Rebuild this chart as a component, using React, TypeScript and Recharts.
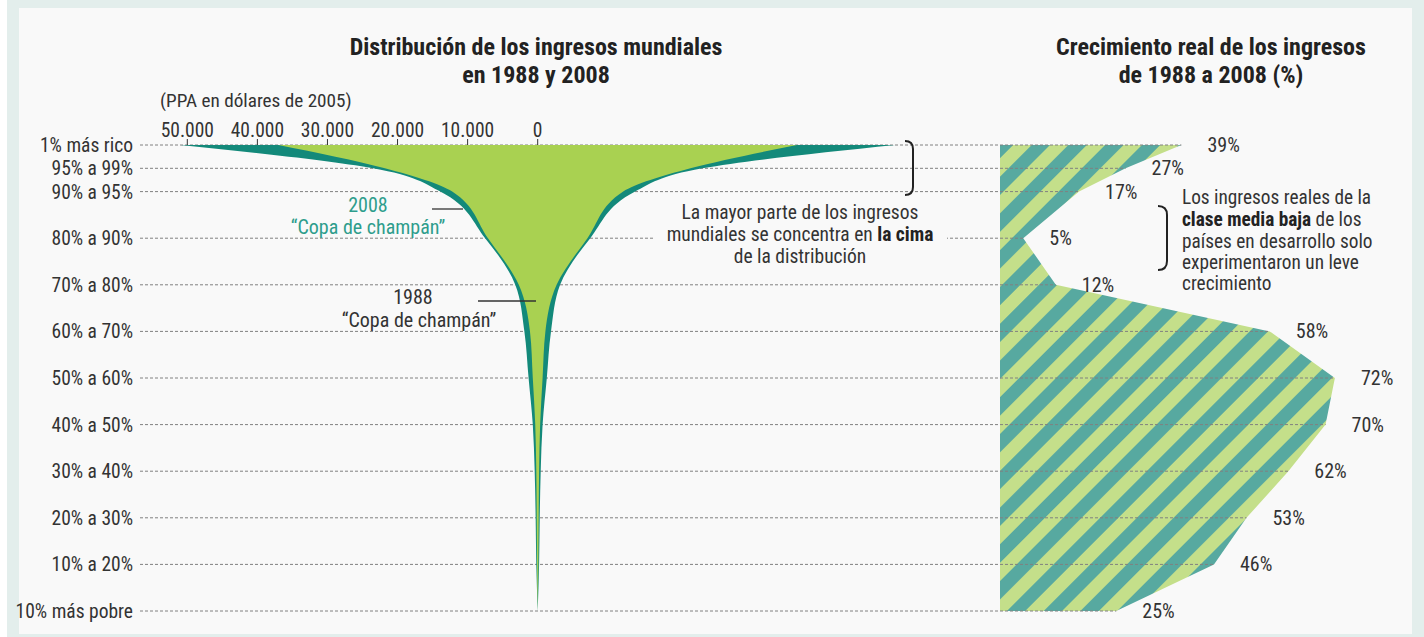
import React from 'react';
import { ComposedChart, Area, XAxis, YAxis, ReferenceLine, LabelList } from 'recharts';

// rows of the distribution, top (richest) to bottom (poorest)
const rowLabels = [
  '1% más rico',
  '95% a 99%',
  '90% a 95%',
  '80% a 90%',
  '70% a 80%',
  '60% a 70%',
  '50% a 60%',
  '40% a 50%',
  '30% a 40%',
  '20% a 30%',
  '10% a 20%',
  '10% más pobre',
];
const rowPercentiles = [100, 95, 90, 80, 70, 60, 50, 40, 30, 20, 10, 0];

// income, PPA dollars of 2005
const income1988 = [37000, 21800, 12200, 7100, 2700, 1100, 700, 350, 200, 140, 90, 0];
const income2008 = [51000, 23500, 13900, 7500, 3200, 1900, 1300, 700, 430, 290, 200, 0];

// real income growth 1988-2008 (%)
const growth = [39, 27, 17, 5, 12, 58, 72, 70, 62, 53, 46, 25];

const incomeTicks = [-50000, -40000, -30000, -20000, -10000, 0];

const INC_DOMAIN: [number, number] = [-56750, 123050];
const GR_DOMAIN: [number, number] = [-184.9, 86];

const rows = rowPercentiles.map((p, i) => ({
  pct: p,
  label: rowLabels[i],
  inc1988: income1988[i],
  inc2008: income2008[i],
  growth: growth[i],
}));

const FONT = "'Liberation Sans Narrow', 'Roboto Condensed', 'Arial Narrow', sans-serif";
const TEXT = '#333333';
const DARK = '#13897a';
const LIGHT = '#a9d151';
const PANEL = '#f9f9f9';

const fmtThousands = (v: number) =>
  String(Math.abs(v)).replace(/\B(?=(\d{3})+(?!\d))/g, '.');

const rowLabel = (v: number) => {
  const r = rows.find((d) => d.pct === v);
  return r ? r.label : '';
};

const GrowthLabel = (props: any) => {
  const { x, y, value } = props;
  if (x == null || y == null) return null;
  return (
    <text
      x={x + 26}
      y={y}
      dominantBaseline="central"
      fill={TEXT}
      fontSize={20}
      fontFamily={FONT}
    >
      {value}%
    </text>
  );
};

const App: React.FC = () => {
  return (
    <div
      style={{
        position: 'absolute',
        left: 0,
        top: 0,
        width: 1424,
        height: 637,
        background: '#ffffff',
        overflow: 'hidden',
        fontFamily: FONT,
      }}
    >
      <div style={{ position: 'absolute', left: 7, top: 0, right: 0, bottom: 0, background: '#e3eeec' }} />
      <div style={{ position: 'absolute', left: 19, top: 8, width: 1393, height: 626, background: PANEL }} />

      <div style={{ position: 'absolute', left: 0, top: 0 }}>
        <ComposedChart
          width={1424}
          height={637}
          data={rows}
          layout="vertical"
          margin={{ top: 115, right: 24, bottom: 26, left: 0 }}
        >
          <defs>
            <pattern
              id="hatch"
              patternUnits="userSpaceOnUse"
              width="26"
              height="26"
              patternTransform="rotate(45)"
            >
              <rect width="26" height="26" fill="#c4df8a" />
              <rect width="13" height="26" fill="#57a9a0" />
            </pattern>
          </defs>

          <XAxis
            xAxisId="inc"
            type="number"
            orientation="top"
            domain={INC_DOMAIN}
            allowDataOverflow
            ticks={incomeTicks}
            interval={0}
            tickFormatter={fmtThousands}
            axisLine={false}
            tickLine={{ stroke: TEXT }}
            tickSize={6}
            tickMargin={2}
            height={30}
            tick={{ fill: TEXT, fontSize: 19.5, fontFamily: FONT }}
          />
          <XAxis xAxisId="gr" type="number" domain={GR_DOMAIN} allowDataOverflow hide />
          <YAxis
            yAxisId="row"
            type="number"
            dataKey="pct"
            domain={[0, 100]}
            reversed
            ticks={rowPercentiles}
            interval={0}
            tickFormatter={rowLabel}
            axisLine={false}
            tickLine={false}
            tickSize={0}
            tickMargin={7}
            width={140}
            tick={{ fill: TEXT, fontSize: 19.5, fontFamily: FONT }}
          />

          <Area
            xAxisId="gr"
            yAxisId="row"
            dataKey="growth"
            type="linear"
            fill="url(#hatch)"
            fillOpacity={1}
            stroke="none"
            isAnimationActive={false}
            zIndex={100}
          >
            <LabelList dataKey="growth" content={GrowthLabel} />
          </Area>

          {rows.map((r) => (
            <ReferenceLine
              key={r.pct}
              xAxisId="gr"
              yAxisId="row"
              segment={[
                { x: GR_DOMAIN[0], y: r.pct },
                { x: r.growth, y: r.pct },
              ]}
              stroke="#808080"
              strokeWidth={1}
              strokeDasharray="3 2"
              zIndex={150}
            />
          ))}

          <Area
            xAxisId="inc"
            yAxisId="row"
            dataKey={(d: any) => [-d.inc2008, d.inc2008]}
            type="monotone"
            fill={DARK}
            fillOpacity={1}
            stroke="none"
            isAnimationActive={false}
            zIndex={200}
          />
          <Area
            xAxisId="inc"
            yAxisId="row"
            dataKey={(d: any) => [-d.inc1988, d.inc1988]}
            type="monotone"
            fill={LIGHT}
            fillOpacity={1}
            stroke="none"
            isAnimationActive={false}
            zIndex={201}
          />
        </ComposedChart>
      </div>

      <svg
        width={1424}
        height={637}
        style={{ position: 'absolute', left: 0, top: 0, pointerEvents: 'none' }}
        fontFamily={FONT}
      >
        {/* titles */}
        <g fill="#222" fontWeight="bold" fontSize={24} textAnchor="middle">
          <text x={536} y={47} dominantBaseline="central">Distribución de los ingresos mundiales</text>
          <text x={536} y={75} dominantBaseline="central">en 1988 y 2008</text>
          <text x={1211} y={47} dominantBaseline="central">Crecimiento real de los ingresos</text>
          <text x={1211} y={75} dominantBaseline="central">de 1988 a 2008 (%)</text>
        </g>
        <text x={160} y={100} dominantBaseline="central" fill={TEXT} fontSize={19.2}>
          (PPA en dólares de 2005)
        </text>

        {/* 2008 label */}
        <g fill="#2e9d8c" fontSize={20} textAnchor="middle">
          <text x={368} y={205} dominantBaseline="central">2008</text>
          <text x={368} y={227} dominantBaseline="central">“Copa de champán”</text>
        </g>
        <line x1={432} y1={209} x2={463} y2={209} stroke={TEXT} strokeWidth={1.3} />

        {/* 1988 label */}
        <g fill={TEXT} fontSize={20} textAnchor="middle">
          <text x={413} y={297} dominantBaseline="central">1988</text>
          <text x={419} y={320} dominantBaseline="central">“Copa de champán”</text>
        </g>
        <line x1={478} y1={301} x2={536} y2={301} stroke={TEXT} strokeWidth={1.3} />

        {/* top of distribution note */}
        <path d="M905,141 Q913,141 913,149 L913,187 Q913,195 905,195" fill="none" stroke="#222" strokeWidth={2} />
        <rect x={655} y={200} width={292} height={66} fill={PANEL} />
        <g fill={TEXT} fontSize={19.5} textAnchor="middle">
          <text x={800} y={212} dominantBaseline="central">La mayor parte de los ingresos</text>
          <text x={800} y={234} dominantBaseline="central">
            mundiales se concentra en <tspan fontWeight="bold" fill="#222">la cima</tspan>
          </text>
          <text x={800} y={256} dominantBaseline="central">de la distribución</text>
        </g>

        {/* lower middle class note */}
        <path d="M1158,206 Q1167,206 1167,215 L1167,261 Q1167,270 1158,270" fill="none" stroke="#222" strokeWidth={2} />
        <g fill={TEXT} fontSize={19.3}>
          <text x={1182} y={197} dominantBaseline="central">Los ingresos reales de la</text>
          <text x={1182} y={219} dominantBaseline="central">
            <tspan fontWeight="bold" fill="#222">clase media baja</tspan> de los
          </text>
          <text x={1182} y={241} dominantBaseline="central">países en desarrollo solo</text>
          <text x={1182} y={262} dominantBaseline="central">experimentaron un leve</text>
          <text x={1182} y={283} dominantBaseline="central">crecimiento</text>
        </g>
      </svg>
    </div>
  );
};

export default App;
